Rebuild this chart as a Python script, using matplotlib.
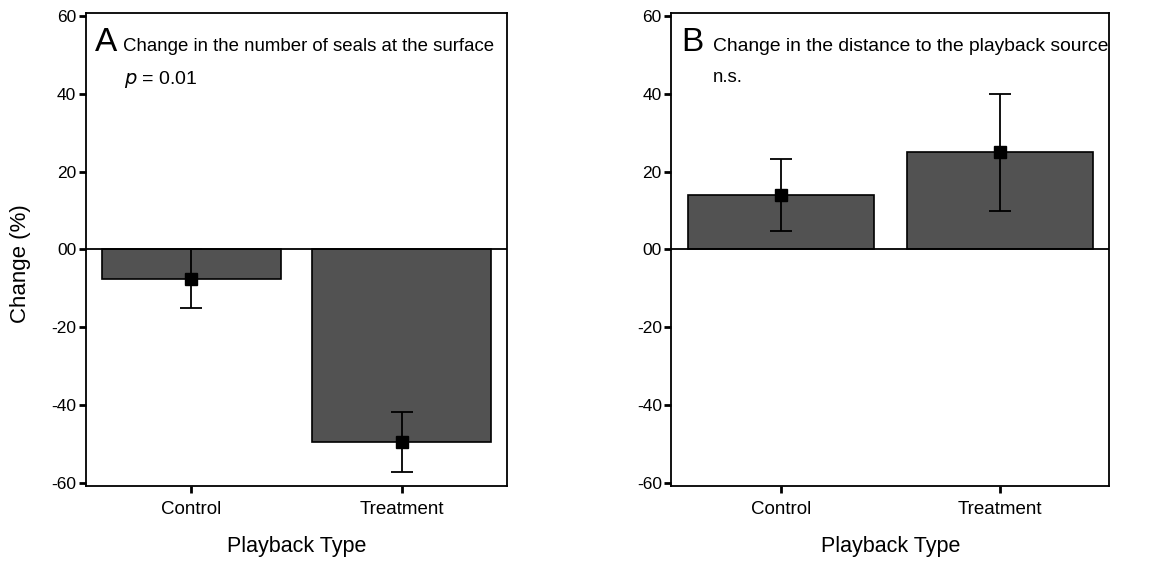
import matplotlib.pyplot as plt
import numpy as np

plt.rcParams['font.family'] = ['Liberation Sans', 'DejaVu Sans']

groups = ['Control', 'Treatment']

# panel A: change in the number of seals at the surface
seals_mean = [-7.5, -49.5]
seals_err = [7.5, 7.8]

# panel B: change in the distance to the playback source
dist_mean = [14.0, 25.0]
dist_err = [9.2, 15.0]

yticks = [-60, -40, -20, 0, 20, 40, 60]
ytick_labels = ['-60', '-40', '-20', '00', '20', '40', '60']

BAR_COLOR = '#525252'


def panel(ax, means, errs, letter, title, title_x, title_size, note, note_italic=False):
    x = np.arange(len(groups))
    ax.bar(x, means, width=0.85, color=BAR_COLOR, edgecolor='black', linewidth=1.2, zorder=2)
    ax.errorbar(x, means, yerr=errs, fmt='s', color='black', markersize=8,
                elinewidth=1.3, capsize=8, capthick=1.3, zorder=3)
    ax.axhline(0, color='black', linewidth=1.3, zorder=4)
    ax.set_xlim(-0.5, 1.5)
    ax.set_ylim(-60.8, 60.8)
    ax.set_xticks(x)
    ax.set_xticklabels(groups, fontsize=13.5)
    ax.set_yticks(yticks)
    ax.set_yticklabels(ytick_labels, fontsize=12.5)
    ax.tick_params(direction='out', length=5, width=2, pad=2)
    ax.tick_params(axis='x', pad=6)
    for s in ax.spines.values():
        s.set_linewidth(1.3)
    ax.set_xlabel('Playback Type', fontsize=15.5, labelpad=13)
    ax.text(0.022, 0.97, letter, transform=ax.transAxes, fontsize=24, va='top', ha='left')
    ax.text(title_x, 0.948, title, transform=ax.transAxes, fontsize=title_size, va='top',
            ha='left', clip_on=False)
    if note_italic:
        ax.text(0.09, 0.882, r'$\it{p}$ = 0.01', transform=ax.transAxes, fontsize=14,
                va='top', ha='left')
    else:
        ax.text(0.094, 0.882, note, transform=ax.transAxes, fontsize=13.4, va='top', ha='left')


fig = plt.figure(figsize=(11.76, 5.63), dpi=100)
ax1 = fig.add_axes([0.073, 0.137, 0.358, 0.840])
ax2 = fig.add_axes([0.571, 0.137, 0.372, 0.840])

panel(ax1, seals_mean, seals_err, 'A', 'Change in the number of seals at the surface',
      0.088, 13.4, None, note_italic=True)
panel(ax2, dist_mean, dist_err, 'B', 'Change in the distance to the playback source',
      0.096, 13.9, 'n.s.')
ax1.set_ylabel('Change (%)', fontsize=16)
ax1.yaxis.set_label_coords(-0.131, 0.469)

fig.savefig('out.png', dpi=100)
